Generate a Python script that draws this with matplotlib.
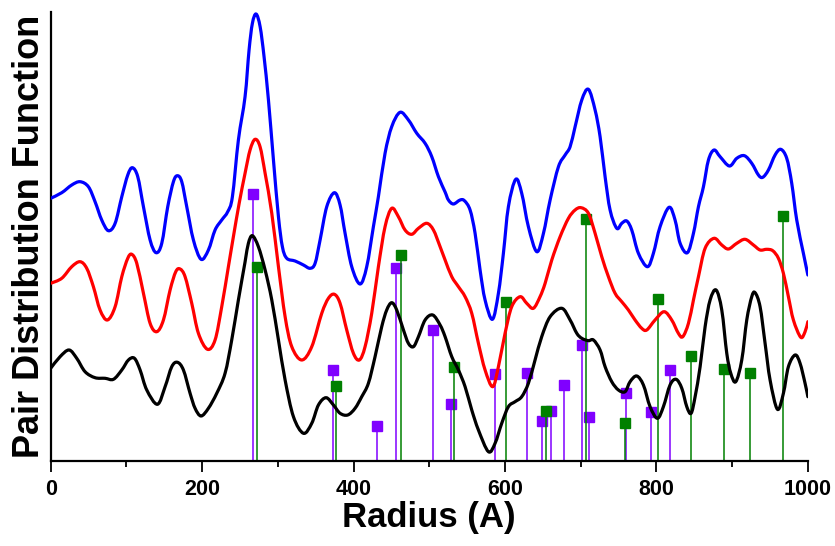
import numpy as np
import matplotlib
matplotlib.use("Agg")
import matplotlib.pyplot as plt
from matplotlib.path import Path
from matplotlib.patches import PathPatch

# Curves: (radius, offset PDF value in arbitrary units)
blue_pts = [
    (0, 262.7), (14.6, 268.3), (27.8, 276), (38.8, 279.3), (49.8, 274.3), (58.6, 259.3),
    (67.4, 241), (76.2, 230.3), (85.1, 237.7), (93.9, 264.3), (101.8, 286), (107.9, 293.3),
    (115.0, 284.3), (122.5, 254.3), (131.3, 221), (139.2, 208.3), (146.7, 217.7), (154.6, 254.3),
    (162.1, 279.3), (167.4, 285.3), (173.1, 279.3), (179.7, 254.3), (188.5, 221), (198.6, 201.7),
    (208.3, 211), (217.1, 231), (225.9, 241), (233.8, 249.3), (240.0, 264.3), (247.9, 321),
    (256.7, 364.3), (262.0, 411), (266.4, 437.7), (271.3, 447), (276.6, 434.3), (281.8, 404.3),
    (287.6, 361), (294.2, 301), (300.8, 244.3), (306.0, 214.3), (311.8, 202.7), (322.8, 200),
    (333.8, 196), (342.6, 192.7), (349.2, 197.7), (355.8, 221), (364.6, 254.3), (374.7, 268.3),
    (382.2, 256), (388.8, 227.7), (397.6, 194.3), (408.6, 177), (417.4, 194.3), (426.2, 234.3),
    (432.8, 264.3), (441.6, 307.7), (450.4, 334.3), (461.4, 348.7), (472.5, 341), (483.5, 327.7),
    (494.5, 317.7), (503.3, 304.3), (512.1, 284.3), (520.9, 269), (525.3, 261), (531.9, 257),
    (540.7, 261), (546.4, 260.3), (553.9, 251), (560.5, 227.7), (567.1, 191), (573.7, 161),
    (583.4, 141.7), (591.3, 167.7), (597.9, 207.7), (604.5, 254.3), (614.2, 281.7), (622.1, 267.7),
    (630.9, 234.3), (642.0, 209.3), (650.8, 227.7), (659.6, 261), (670.6, 294.3), (679.4, 306),
    (686.0, 314.3), (692.6, 334.3), (701.4, 361), (710.2, 371.7), (719.0, 351), (725.6, 324.3),
    (732.2, 284.3), (738.8, 251), (747.6, 232.7), (754.2, 237.7), (760.8, 240), (767.4, 231),
    (776.2, 207.7), (788.1, 194.3), (796.0, 207.7), (804.8, 234.3), (816.7, 253.7), (824.6, 241),
    (831.3, 217.7), (840.9, 208.3), (848.9, 227.7), (855.5, 254.3), (862.1, 274.3), (868.7, 301),
    (876.1, 311), (884.1, 304.3), (896.4, 295), (906.1, 302.7), (916.2, 305.3), (925.9, 297.7),
    (934.7, 286), (940.4, 283.7), (947.9, 291), (956.7, 306), (964.2, 311.7), (972.1, 302.7),
    (978.7, 277.7), (985.3, 241), (994.1, 207.7), (1000, 186),
]

red_pts = [
    (0, 177.7), (14.6, 182.7), (27.8, 194.3), (38.8, 199.3), (47.6, 192.7), (56.4, 174.3),
    (65.2, 151), (74.9, 141), (85.1, 154.3), (93.9, 184.3), (101.8, 202.7), (107.1, 206.7),
    (113.7, 197.7), (122.5, 167.7), (131.3, 137.7), (140.1, 129.3), (148.9, 141), (157.7, 171),
    (165.2, 189.3), (170.9, 192), (177.5, 184.3), (186.3, 157.7), (195.1, 127.7), (207.0, 111.7),
    (217.1, 121), (225.9, 154.3), (234.7, 194.3), (241.3, 224.3), (249.0, 258), (256.7, 287.7),
    (263.3, 311), (269.9, 321.7), (276.5, 314.3), (283.2, 287.7), (292.0, 247.7), (300.8, 194.3),
    (309.6, 144.3), (318.4, 114.3), (331.6, 101), (344.8, 114.3), (358.0, 147.7), (366.8, 162.7),
    (374.7, 166.7), (382.2, 157.7), (391.0, 131), (399.8, 107.7), (407.7, 101), (415.2, 114.3),
    (424.0, 147.7), (432.8, 194.3), (441.6, 234.3), (450.4, 252.7), (459.2, 244.3), (468.0, 231),
    (476.9, 226.7), (485.7, 232.7), (496.7, 237.7), (505.5, 231), (514.3, 214.3), (520.9, 201),
    (529.7, 184.3), (538.5, 174.3), (547.3, 164.3), (556.1, 147.7), (564.9, 117.7), (573.7, 91),
    (583.8, 74.3), (591.3, 94.3), (600.1, 127.7), (608.9, 154.3), (620.0, 164.3), (628.7, 157.7),
    (637.5, 152.7), (646.3, 164.3), (653.0, 177.7), (661.8, 201), (672.8, 224.3), (683.8, 242.7),
    (692.6, 251), (700.5, 253.3), (710.2, 247.7), (719.0, 227.7), (727.8, 204.3), (736.6, 184.3),
    (745.4, 167.7), (754.2, 159.3), (763.0, 151), (771.8, 141), (780.6, 132.7), (787.2, 131),
    (798.2, 141), (810.1, 149.3), (820.2, 141), (829.0, 127.7), (834.8, 124.3), (842.3, 137.7),
    (848.9, 161), (855.5, 184.3), (864.3, 212.7), (876.1, 222.7), (886.3, 216), (895.1, 212),
    (906.1, 217.7), (917.1, 221.7), (928.1, 216), (936.9, 211), (945.7, 211.7), (953.6, 210.3),
    (961.1, 202.7), (967.7, 187.7), (974.3, 164.3), (980.9, 141), (990.6, 123.7), (996.3, 129.3),
    (1000, 139.3),
]

black_pts = [
    (0, 92.7), (12.4, 104.3), (24.3, 111), (34.4, 102.7), (45.4, 89.3), (58.6, 83.3),
    (71.8, 82.7), (82.9, 81.7), (93.9, 91), (102.7, 101), (110.6, 102.7), (118.1, 91),
    (126.9, 71), (141.0, 56.7), (151.1, 74.3), (159.9, 94.3), (167.4, 98.7), (175.3, 91),
    (184.1, 67.7), (190.7, 52.7), (198.6, 45), (208.3, 52.7), (219.3, 67.7), (230.3, 87.7),
    (239.1, 121), (247.9, 161), (256.7, 199), (261.1, 217.7), (266.4, 225.3), (274.3, 214.3),
    (283.2, 191), (292.0, 161), (300.8, 121), (309.6, 81), (320.6, 44.3), (333.8, 27.7),
    (344.8, 37.7), (353.6, 56), (363.7, 63.3), (373.4, 56), (382.2, 47.7), (392.3, 46),
    (402.0, 52.7), (410.8, 64.3), (419.6, 77.7), (428.4, 104.3), (437.2, 134.3), (443.8, 151),
    (450.4, 158.3), (457.0, 151), (465.9, 131), (472.4, 117.7), (479.1, 114.3), (485.7, 124.3),
    (494.5, 141), (504.6, 146), (514.3, 136), (520.9, 124.3), (529.7, 104.3), (538.5, 91),
    (547.3, 74.3), (556.1, 51), (564.9, 31), (578.1, 9.3), (586.9, 17.7), (595.7, 37.7),
    (604.5, 54.3), (613.3, 59.3), (622.1, 64.3), (630.9, 77.7), (639.7, 101), (648.5, 124.3),
    (659.6, 144.3), (675.0, 152.7), (686.0, 141), (694.8, 127.7), (701.4, 122.7), (710.2, 120.3),
    (716.8, 121), (725.6, 111), (732.2, 94.3), (741.0, 79.3), (749.8, 71), (758.6, 69.3),
    (765.2, 79.3), (774.0, 85), (782.8, 76), (791.6, 54.3), (801.3, 42.7), (809.2, 54.3),
    (818.0, 76), (826.0, 81.7), (833.5, 72.7), (840.1, 54.3), (845.8, 47.7), (851.1, 64.3),
    (857.7, 94.3), (864.3, 134.3), (870.9, 161), (878.8, 171), (886.3, 151), (892.9, 107.7),
    (898.2, 87.7), (904.8, 79.3), (912.7, 101), (919.3, 141), (925.9, 164.3), (930.3, 168.3),
    (936.9, 154.3), (943.5, 117.7), (950.1, 81), (959.8, 51.7), (967.7, 67.7), (974.3, 94.3),
    (983.2, 106), (989.7, 97.7), (996.3, 77.7), (1000, 64.3),
]

# Reference peak positions (stems)
purple_r = [266.6, 373.4, 430.7, 455.8, 504.4, 529.2, 586.5, 628.8, 648.6, 660.9,
            677.4, 702.1, 710.4, 759.9, 793.2, 817.6]
purple_h = [266.7, 91, 34.5, 192.7, 131, 56.7, 86.7, 88.3, 40, 50.3,
            75.5, 116.3, 43.5, 68.3, 48.5, 91]

green_r = [271.9, 376.3, 462.4, 532.4, 601.4, 654.7, 707.1, 758.9, 801.5, 845.8,
           889.4, 924.1, 966.9]
green_h = [194, 75, 206, 94.3, 159.3, 50.3, 241.7, 37.7, 161.7, 105,
           91.7, 88.3, 245.2]


def spline_path(pts):
    # draw the read points joined by smooth (Catmull-Rom style) bezier segments,
    # like the "spline" connect mode of the original plotting program
    p = np.array(pts, dtype=float)
    ext = np.vstack([p[0], p, p[-1]])
    verts = [p[0]]
    codes = [Path.MOVETO]
    for i in range(1, len(ext) - 2):
        p0, p1, p2, p3 = ext[i - 1], ext[i], ext[i + 1], ext[i + 2]
        verts += [p1 + (p2 - p0) / 6.0, p2 - (p3 - p1) / 6.0, p2]
        codes += [Path.CURVE4] * 3
    return Path(verts, codes)


plt.rcParams["font.family"] = ["Liberation Sans", "DejaVu Sans"]
plt.rcParams["font.weight"] = "bold"

fig = plt.figure(figsize=(8.35, 5.46), dpi=100)
ax = fig.add_axes([0.0607, 0.1557, 0.9068, 0.8223])

# stems
ax.vlines(purple_r, 0, purple_h, color="#8000ff", linewidth=1.1, zorder=1)
ax.plot(purple_r, purple_h, "s", color="#8000ff", markersize=6.5, zorder=1)
ax.vlines(green_r, 0, green_h, color="#008000", linewidth=1.1, zorder=1)
ax.plot(green_r, green_h, "s", color="#008000", markersize=6.5, zorder=1)

# curves
for pts, col in [(blue_pts, "#0000ff"), (red_pts, "#ff0000"), (black_pts, "black")]:
    patch = PathPatch(spline_path(pts), facecolor="none", edgecolor=col,
                      linewidth=2.3, joinstyle="round", capstyle="round", zorder=3)
    ax.add_patch(patch)

ax.set_xlim(0, 1000)
ax.set_ylim(0, 449)
ax.set_xticks([0, 200, 400, 600, 800, 1000])
ax.set_xticks([100, 300, 500, 700, 900], minor=True)
ax.set_yticks([])
ax.spines["top"].set_visible(False)
ax.spines["right"].set_visible(False)
ax.spines["left"].set_linewidth(1.6)
ax.spines["bottom"].set_linewidth(1.6)
ax.tick_params(axis="x", which="major", length=8, width=1.3, direction="out",
               labelsize=15.5, pad=5)
ax.tick_params(axis="x", which="minor", length=4.5, width=1.3, direction="out")
for lbl in ax.get_xticklabels():
    lbl.set_fontweight("bold")

ax.set_xlabel("Radius (A)", fontsize=25, fontweight="bold", labelpad=1)
ax.set_ylabel("Pair Distribution Function", fontsize=26, fontweight="bold", labelpad=3)

fig.savefig("out.png", dpi=100)
